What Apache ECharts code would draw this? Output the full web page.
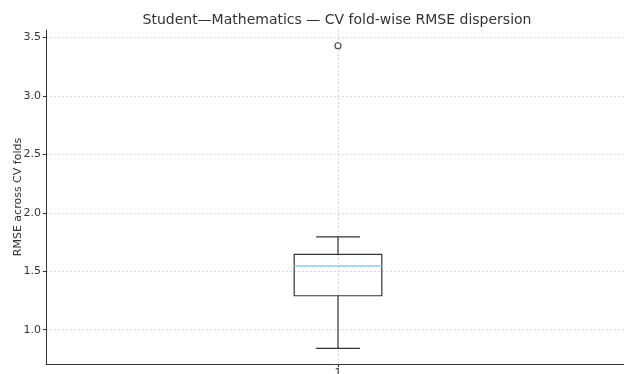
<!DOCTYPE html>
<html>
<head>
<meta charset="utf-8">
<script src="https://cdn.jsdelivr.net/npm/echarts@6/dist/echarts.min.js"></script>
<style>
  html, body { margin: 0; padding: 0; background: #fff; }
  #chart { width: 624px; height: 374px; }
</style>
</head>
<body>
<div id="chart"></div>
<script>
// Fold-wise RMSE summary for the Student—Mathematics dataset
const categories = ['1'];
const lowerWhisker = [0.84];
const q1Values = [1.29];
const medianValues = [1.545];
const q3Values = [1.645];
const upperWhisker = [1.795];
const outliers = [[1, 3.43]];
const yTicks = [1.0, 1.5, 2.0, 2.5, 3.0, 3.5];
const xTicks = [1];

const boxRows = categories.map((c, i) => [
  i + 1, lowerWhisker[i], q1Values[i], medianValues[i], q3Values[i], upperWhisker[i]
]);

const BOX_W = 0.30;   // box width in x-axis units
const CAP_W = 0.15;   // whisker cap width in x-axis units
const INK = '#333333';

const chart = echarts.init(document.getElementById('chart'), null, { renderer: 'canvas' });

chart.setOption({
  animation: false,
  backgroundColor: '#ffffff',
  textStyle: { fontFamily: 'DejaVu Sans' },
  title: {
    text: 'Student—Mathematics — CV fold-wise RMSE dispersion',
    left: 332, top: 8, textAlign: 'center',
    textStyle: { fontFamily: 'DejaVu Sans', fontSize: 14, fontWeight: 'normal', color: '#333' }
  },
  grid: { left: 46, top: 30, width: 584, height: 334, outerBoundsMode: 'none', containLabel: false },
  xAxis: {
    type: 'value', min: 0, max: 2, interval: 1,
    axisLine: { show: true, lineStyle: { color: INK, width: 1 } },
    axisTick: { show: true, length: 3, customValues: xTicks, lineStyle: { color: INK } },
    axisLabel: {
      color: '#333', fontSize: 11, margin: 4, customValues: xTicks,
      formatter: v => categories[v - 1]
    },
    splitLine: { show: true, lineStyle: { color: '#d9d9d9', type: [2, 2], width: 1 } }
  },
  yAxis: {
    type: 'value', min: 0.706, max: 3.565,
    name: 'RMSE across CV folds', nameLocation: 'middle', nameGap: 22, nameMoveOverlap: false,
    nameTextStyle: { fontFamily: 'DejaVu Sans', fontSize: 11, color: '#333' },
    axisLine: { show: true, lineStyle: { color: INK, width: 1 } },
    axisTick: { show: true, length: 3, customValues: yTicks, lineStyle: { color: INK } },
    axisLabel: {
      color: '#333', fontSize: 11, margin: 5,
      customValues: yTicks, formatter: v => v.toFixed(1)
    },
    splitLine: { show: true, customValues: yTicks, lineStyle: { color: '#d9d9d9', type: [2, 2], width: 1 } }
  },
  series: [
    {
      type: 'custom',
      data: boxRows,
      encode: { x: 0, y: [1, 2, 3, 4, 5] },
      renderItem: function (params, api) {
        const x = api.value(0);
        const lo = api.coord([x, api.value(1)]);
        const q1 = api.coord([x, api.value(2)]);
        const med = api.coord([x, api.value(3)]);
        const q3 = api.coord([x, api.value(4)]);
        const hi = api.coord([x, api.value(5)]);
        const halfBox = api.size([BOX_W, 0])[0] / 2;
        const halfCap = api.size([CAP_W, 0])[0] / 2;
        const cx = lo[0];
        const lineStyle = { stroke: INK, lineWidth: 1.2, fill: null };
        return {
          type: 'group',
          children: [
            { type: 'line', shape: { x1: cx, y1: lo[1], x2: cx, y2: q1[1] }, style: lineStyle },
            { type: 'line', shape: { x1: cx, y1: q3[1], x2: cx, y2: hi[1] }, style: lineStyle },
            { type: 'line', shape: { x1: cx - halfCap, y1: lo[1], x2: cx + halfCap, y2: lo[1] }, style: lineStyle },
            { type: 'line', shape: { x1: cx - halfCap, y1: hi[1], x2: cx + halfCap, y2: hi[1] }, style: lineStyle },
            { type: 'rect', shape: { x: cx - halfBox, y: q3[1], width: halfBox * 2, height: q1[1] - q3[1] },
              style: { stroke: INK, lineWidth: 1.2, fill: 'rgba(0,0,0,0)' } },
            { type: 'line', shape: { x1: cx - halfBox, y1: med[1], x2: cx + halfBox, y2: med[1] },
              style: { stroke: '#87cdea', lineWidth: 1.5 } }
          ]
        };
      }
    },
    {
      type: 'scatter',
      data: outliers,
      symbol: 'circle',
      symbolSize: 6,
      itemStyle: { color: '#ffffff', borderColor: '#222', borderWidth: 1.2 }
    }
  ]
});
</script>
</body>
</html>
